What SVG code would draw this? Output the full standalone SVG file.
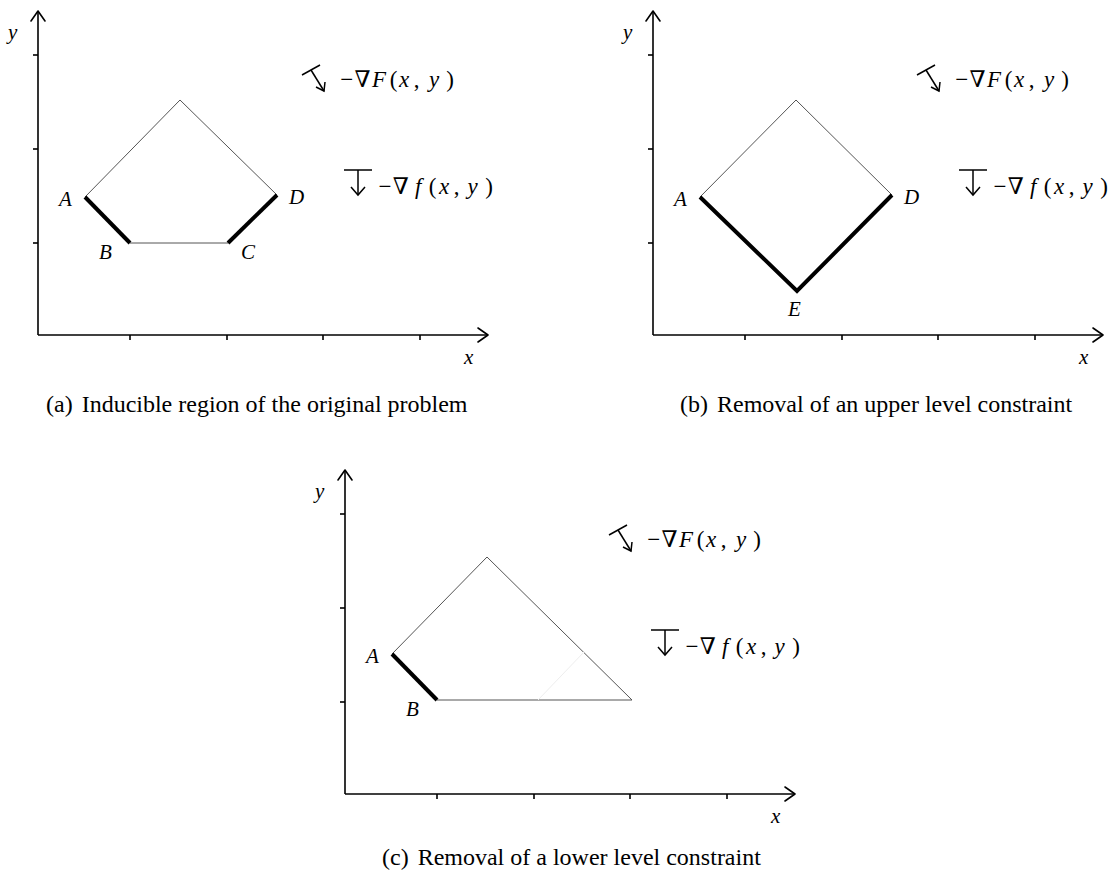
<svg xmlns="http://www.w3.org/2000/svg" width="1114" height="880" viewBox="0 0 1114 880">
<defs>
<style>
.ax{stroke:#000;stroke-width:1.6;fill:none}
.ah{stroke:#000;stroke-width:1.6;fill:none;stroke-linecap:round;stroke-linejoin:round}
.thin{stroke:#555;stroke-width:1;fill:none}
.thick{stroke:#000;stroke-width:4;fill:none}
.sym{stroke:#000;stroke-width:1.5;fill:none}
.m{font-family:"Liberation Serif","DejaVu Serif",serif;font-style:italic;font-size:21px;fill:#000}
.g{font-family:"Liberation Serif","DejaVu Serif",serif;font-style:italic;font-size:23px;fill:#000;text-anchor:middle}
.u{font-style:normal}
.cap{font-family:"Liberation Serif","DejaVu Serif",serif;font-size:24px;fill:#000}
</style>
<g id="axes">
<line class="ax" x1="0" y1="324" x2="0" y2="0"/>
<path class="ah" d="M-7,10 L0,0 L7,10"/>
<line class="ax" x1="0" y1="324" x2="450" y2="324"/>
<path class="ah" d="M440,317 L450,324 L440,331"/>
<line class="ax" x1="-5" y1="44" x2="0" y2="44"/>
<line class="ax" x1="-5" y1="138" x2="0" y2="138"/>
<line class="ax" x1="-5" y1="232" x2="0" y2="232"/>
<line class="ax" x1="92" y1="324" x2="92" y2="329"/>
<line class="ax" x1="189" y1="324" x2="189" y2="329"/>
<line class="ax" x1="285" y1="324" x2="285" y2="329"/>
<line class="ax" x1="382" y1="324" x2="382" y2="329"/>
<text class="m" x="-30" y="28">y</text>
<text class="m" x="426" y="353">x</text>
</g>
<g id="grads">
<line class="sym" x1="302" y1="75" x2="320" y2="65"/>
<line class="sym" x1="311" y1="70" x2="324" y2="91"/>
<path class="sym" d="M316,87 L324,91 L325,82"/>
<text class="g" y="87"><tspan class="u" x="346.7">−</tspan><tspan class="u" x="362.5">∇</tspan><tspan x="379">F</tspan><tspan class="u" x="393.5">(</tspan><tspan x="404">x</tspan><tspan class="u" x="416.5">,</tspan><tspan x="434">y</tspan><tspan class="u" x="450">)</tspan></text>
<line class="sym" x1="344" y1="170" x2="372" y2="170"/>
<line class="sym" x1="358" y1="170" x2="358" y2="195"/>
<path class="sym" d="M351,187 L358,195 L365,187"/>
<text class="g" y="194"><tspan class="u" x="385">−</tspan><tspan class="u" x="400.8">∇</tspan><tspan x="418.3">f</tspan><tspan class="u" x="432.5">(</tspan><tspan x="444">x</tspan><tspan class="u" x="456.7">,</tspan><tspan x="472.5">y</tspan><tspan class="u" x="489">)</tspan></text>
</g>
</defs>

<g id="panel-a">
<g id="axes-a" transform="translate(38,11)"><use href="#axes"/></g>
<g id="grad-a"><use href="#grads"/></g>
<g id="region-a">
<polyline class="thin" points="85,197 180,100 277,195"/>
<line class="thin" x1="130" y1="243" x2="228" y2="243"/>
<line class="thick" x1="85" y1="197" x2="130" y2="243"/>
<line class="thick" x1="228" y1="243" x2="277" y2="195"/>
</g>
<text class="m" x="59" y="206">A</text>
<text class="m" x="99" y="259">B</text>
<text class="m" x="241" y="259">C</text>
<text class="m" x="289" y="204">D</text>
<text class="cap" x="46" y="412">(a)<tspan dx="9">Inducible region of the original problem</tspan></text>
</g>

<g id="panel-b">
<g id="axes-b" transform="translate(653,11)"><use href="#axes"/></g>
<g id="grad-b" transform="translate(615,0)"><use href="#grads"/></g>
<g id="region-b">
<polyline class="thin" points="700,197 796,100 892,195"/>
<polyline class="thick" points="700,197 797,291 892,195" stroke-linejoin="miter"/>
</g>
<text class="m" x="674" y="206">A</text>
<text class="m" x="904" y="204">D</text>
<text class="m" x="788" y="316">E</text>
<text class="cap" x="680" y="412">(b)<tspan dx="9">Removal of an upper level constraint</tspan></text>
</g>

<g id="panel-c">
<g id="axes-c" transform="translate(345,470)"><use href="#axes"/></g>
<g id="grad-c" transform="translate(307,460)"><use href="#grads"/></g>
<g id="region-c">
<polyline class="thin" points="392,654 487,557 632,700 437,700"/>
<line x1="538" y1="700" x2="584" y2="652" stroke="#eee" stroke-width="1"/>
<line class="thick" x1="392" y1="654" x2="437" y2="700"/>
</g>
<text class="m" x="366" y="663">A</text>
<text class="m" x="406" y="716">B</text>
<text class="cap" x="382" y="865">(c)<tspan dx="9">Removal of a lower level constraint</tspan></text>
</g>
</svg>
